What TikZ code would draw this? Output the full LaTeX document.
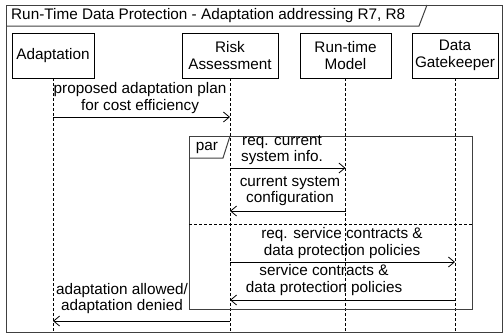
\documentclass[tikz,border=0pt]{standalone}
\usepackage{fontspec}
\setmainfont{Liberation Sans}
\usetikzlibrary{arrows.meta}
\begin{document}
\begin{tikzpicture}[x=1pt,y=-1pt,
  every node/.style={font=\fontsize{15.3}{16.5}\selectfont, inner sep=0pt},
  actor/.style={draw, line width=0.8pt, minimum height=45pt, align=center},
  lifeline/.style={dash pattern=on 3pt off 2pt, line width=0.8pt},
  msg/.style={-{Straight Barb[length=6pt,width=10pt]}, line width=0.8pt},
  lbl/.style={align=center},
  frame/.style={draw=black!75, line width=1pt}]
\useasboundingbox (0,0) rectangle (504,335);
% outer frame
\draw[frame] (6,5) rectangle (502,332);
\draw[frame] (6,26) -- (419,26) -- (427,5);
\node[anchor=west] (title) at (11,15.5) {Run-Time Data Protection - Adaptation addressing R7, R8};
% actors
\node[actor, minimum width=82pt] (ad) at (53,55.5) {Adaptation};
\node[actor, minimum width=96pt] (ra) at (230,55.5) {Risk\\Assessment};
\node[actor, minimum width=91pt] (rm) at (345.5,55.5) {Run-time\\Model};
\node[actor, minimum width=86pt] (dg) at (455,55.5) {Data\\Gatekeeper};
\coordinate (bot) at (0,332);
\foreach \n in {ad,ra,rm,dg}{
  \draw[lifeline] (\n.south) -- (\n.south |- bot);
}
% par frame
\draw[frame] (189,136) rectangle (472,309);
\draw[frame] (189,158) -- (223,158) -- (230,136);
\node (par) at (207,148) {par};
\draw[dash pattern=on 3pt off 2pt, line width=0.8pt] (189,224) -- (472,224);
% messages
\draw[msg] (ad.south |- 0,117) -- (ra.south |- 0,117);
\node[lbl] (m1) at (140,98) {proposed adaptation plan\\for cost efficiency};
\draw[msg] (ra.south |- 0,168) -- (rm.south |- 0,168);
\node[lbl] (m2) at (282,150) {req. current\\system info.};
\draw[msg] (rm.south |- 0,211) -- (ra.south |- 0,211);
\node[lbl] (m3) at (290,191) {current system\\configuration};
\draw[msg] (ra.south |- 0,262) -- (dg.south |- 0,262);
\node[lbl] (m4) at (342,243) {req. service contracts \&\\data protection policies};
\draw[msg] (dg.south |- 0,300) -- (ra.south |- 0,300);
\node[lbl] (m5) at (324,280) {service contracts \&\\data protection policies};
\draw[msg] (ra.south |- 0,321) -- (ad.south |- 0,321);
\node[lbl] (m6) at (122,298.5) {adaptation allowed/\\adaptation denied};
\end{tikzpicture}
\end{document}
